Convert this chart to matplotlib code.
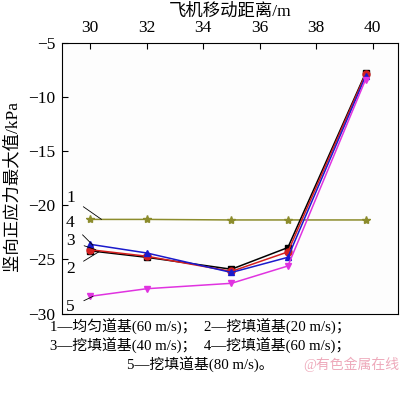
import matplotlib
matplotlib.use('Agg')
import matplotlib.pyplot as plt

plt.rcParams['font.family'] = ['Liberation Serif', 'Noto Sans CJK SC', 'DejaVu Sans']

# 数据
x = [30, 32, 35, 37, 39.75]
s1 = [-21.3, -21.3, -21.35, -21.35, -21.35]
s2 = [-24.2, -24.8, -25.9, -23.9, -7.8]
s3 = [-24.1, -24.7, -26.1, -24.3, -7.9]
s4 = [-23.6, -24.4, -26.2, -24.8, -8.1]
s5 = [-28.4, -27.7, -27.2, -25.6, -8.4]

series = [
    (s1, '#8c8c2c', '*', '1'),
    (s2, 'black', 's', '2'),
    (s3, '#d42020', 'o', '3'),
    (s4, '#1a1acc', '^', '4'),
    (s5, '#e033e0', 'v', '5'),
]

label_pos = {'1': -19.3, '4': -21.6, '3': -23.3, '2': -25.9, '5': -29.4}
label_end = {'1': (30.4, -21.3), '4': (30.1, -23.7), '3': (30.2, -24.1),
             '2': (30.3, -24.3), '5': (30.1, -28.4)}

fig = plt.figure(figsize=(4.0, 3.97), dpi=100)
ax = fig.add_axes([0.155, 0.21, 0.84, 0.682])

for ys, c, m, name in series:
    ax.plot(x, ys, color=c, marker=m, markersize=5 if m != '*' else 6, lw=1.1)

for name, ly in label_pos.items():
    ax.annotate(name, xy=label_end[name], xytext=(29.3, ly), fontsize=12.5,
                ha='center', va='center',
                arrowprops=dict(arrowstyle='-', color='black', lw=0.6,
                                shrinkA=5, shrinkB=0))

ax.set_xlim(29.0, 40.9)
ax.set_ylim(-30, -5)
ax.set_xticks([30, 32, 34, 36, 38, 40])
ax.set_yticks([-5, -10, -15, -20, -25, -30])
ax.xaxis.tick_top()
ax.xaxis.set_label_position('top')
ax.tick_params(direction='in', labelsize=12.5, top=True, bottom=False,
               left=True, right=False, length=4, pad=5)
ax.set_xlabel('飞机移动距离/m', fontsize=12.5, labelpad=3)
ax.set_ylabel('竖向正应力最大值/kPa', fontsize=12.5)
ax.yaxis.set_label_coords(-0.125, 0.47)
ax.set_facecolor('#fdfdfd')

fig.text(0.5, 0.176, '1—均匀道基(60 m/s)；  2—挖填道基(20 m/s)；',
         ha='center', va='center', fontsize=10.7)
fig.text(0.5, 0.128, '3—挖填道基(40 m/s)；  4—挖填道基(60 m/s)；',
         ha='center', va='center', fontsize=10.7)
fig.text(0.5, 0.080, '5—挖填道基(80 m/s)。',
         ha='center', va='center', fontsize=10.7)
fig.text(0.998, 0.082, '@有色金属在线', ha='right', va='center',
         fontsize=10, color='#eeaabb')

fig.savefig('out.png', dpi=100)
